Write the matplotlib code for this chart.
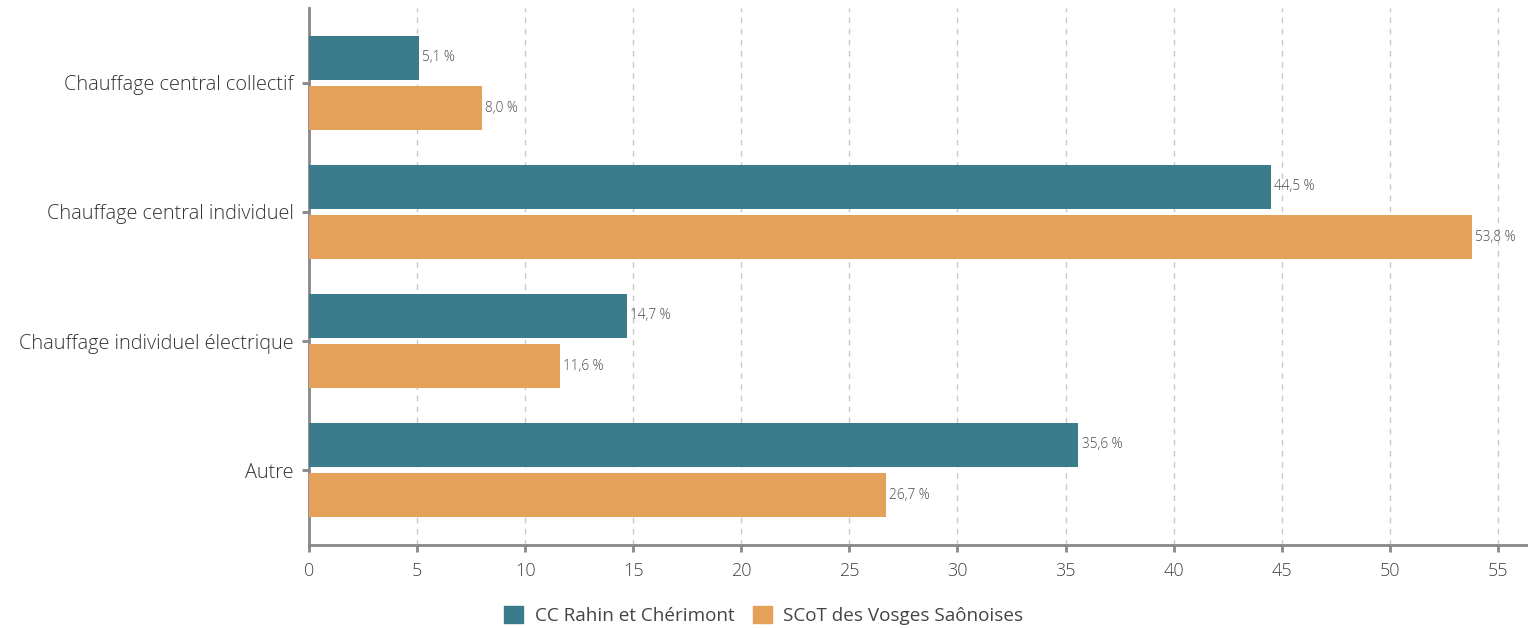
import matplotlib
matplotlib.use("Agg")
import matplotlib.pyplot as plt
import numpy as np
from matplotlib.patches import Patch

categories = ["Chauffage central collectif", "Chauffage central individuel",
              "Chauffage individuel électrique", "Autre"]
series_names = ["CC Rahin et Chérimont", "SCoT des Vosges Saônoises"]
cc_values = [5.1, 44.5, 14.7, 35.6]
scot_values = [8.0, 53.8, 11.6, 26.7]
xticks = [0, 5, 10, 15, 20, 25, 30, 35, 40, 45, 50, 55]

colors = ["#3a7b8c", "#e5a05a"]
plt.rcParams['font.family'] = ['Open Sans', 'DejaVu Sans']

fig = plt.figure(figsize=(15.28, 6.28), dpi=100)
ax = fig.add_axes([309/1528, 1-545/628, (1527-309)/1528, (545-8)/628])

y = np.arange(len(categories))
h = 0.34
off = 0.195
b1 = ax.barh(y - off, cc_values, height=h, color=colors[0], zorder=3)
b2 = ax.barh(y + off, scot_values, height=h, color=colors[1], zorder=3)

def fmt(v):
    return f"{v:.1f}".replace(".", ",") + " %"

for bars, vals in ((b1, cc_values), (b2, scot_values)):
    for bar, v in zip(bars, vals):
        ax.text(v + 0.15, bar.get_y() + bar.get_height()/2, fmt(v),
                va="center", ha="left", fontsize=9.8, color="#4a4a4a",
                fontweight="light", zorder=4)

ax.set_xlim(0, 56.35)
ax.set_ylim(3.58, -0.58)
ax.set_yticks(y)
ax.set_yticklabels(categories, fontsize=14.3, color="#333333", fontweight="light")
ax.set_xticks(xticks)
ax.set_xticklabels([str(t) for t in xticks], fontsize=13, color="#444444", fontweight="light")

ax.xaxis.grid(True, linestyle=(0, (4, 4)), color="#c8c8c8", linewidth=1, zorder=0)
ax.yaxis.grid(False)
for s in ("top", "right"):
    ax.spines[s].set_visible(False)
for s in ("left", "bottom"):
    ax.spines[s].set_color("#888888")
    ax.spines[s].set_linewidth(2)
ax.tick_params(axis="both", color="#888888", width=2, length=5)
ax.tick_params(axis="x", pad=7)
ax.tick_params(axis="y", pad=6)

handles = [Patch(color=colors[0]), Patch(color=colors[1])]
fig.legend(handles, series_names, loc="lower center", bbox_to_anchor=(0.5, -0.022),
           ncol=2, frameon=False, fontsize=13.6, handlelength=1.0, handleheight=1.0,
           columnspacing=1.0, handletextpad=0.6, labelcolor="#444444")

fig.savefig("out.png", dpi=100)
